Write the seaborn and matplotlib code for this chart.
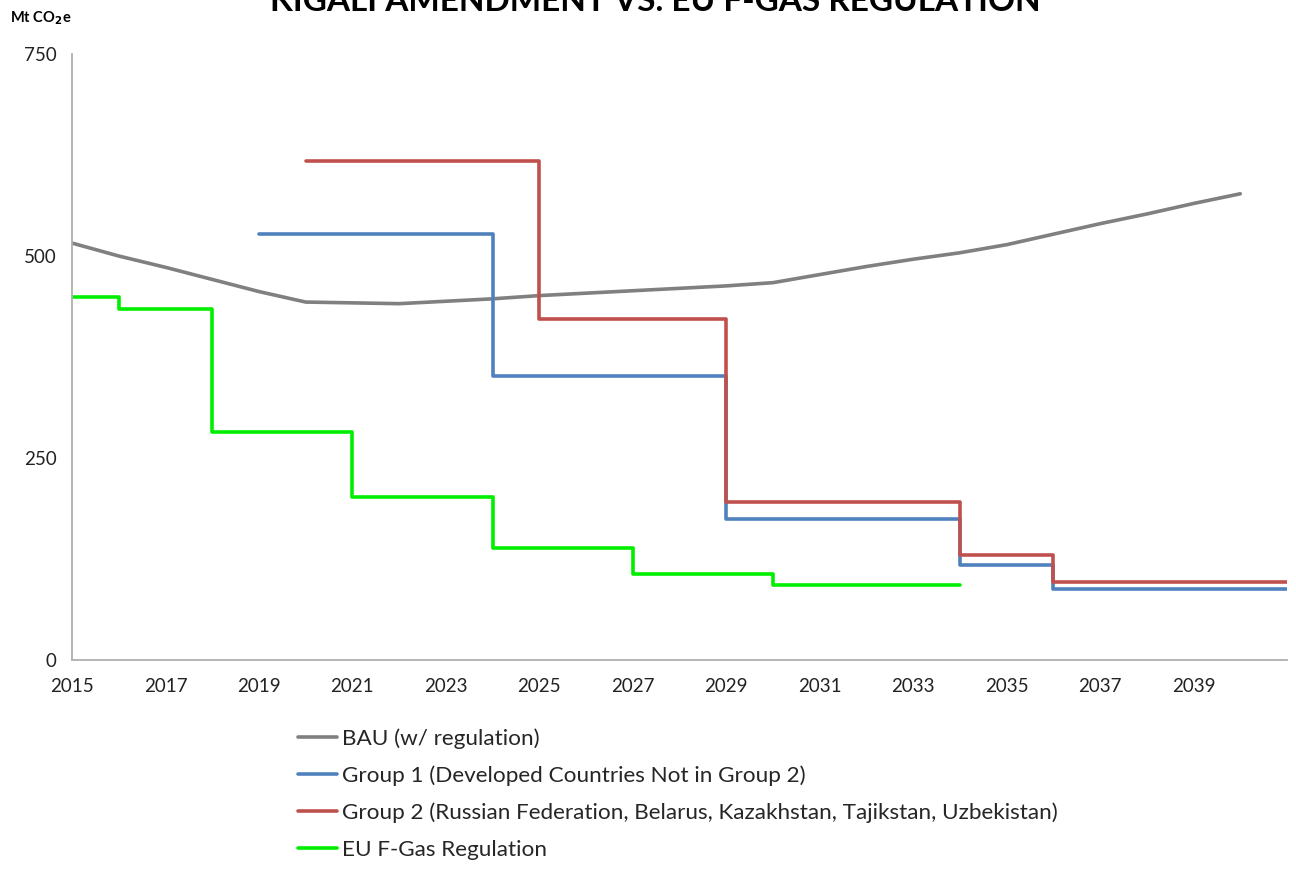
import matplotlib
matplotlib.use("Agg")
import matplotlib.pyplot as plt
import seaborn as sns
import pandas as pd

sns.set_theme(style="white")
plt.rcParams['font.family'] = ['Lato', 'DejaVu Sans']

# ---- data ----
bau_years = list(range(2015, 2041))
bau_values = [516, 500, 486, 471, 456, 443, 442, 441, 444, 447, 451, 454, 457,
              460, 463, 467, 477, 487, 496, 504, 514, 527, 540, 552, 565, 577]

g1_years = [2019, 2024, 2029, 2034, 2036, 2041]
g1_values = [527, 351, 175, 117, 88, 88]

g2_years = [2020, 2025, 2029, 2034, 2036, 2041]
g2_values = [618, 422, 195, 130, 97, 97]

eu_years = [2015, 2016, 2018, 2021, 2024, 2027, 2030, 2034]
eu_values = [449, 435, 282, 202, 138, 107, 93, 93]

labels = ["BAU (w/ regulation)",
          "Group 1 (Developed Countries Not in Group 2)",
          "Group 2 (Russian Federation, Belarus, Kazakhstan, Tajikstan, Uzbekistan)",
          "EU F-Gas Regulation"]
colors = ["#808080", "#4F81BD", "#C0504D", "#00EE00"]
x_ticks = list(range(2015, 2041, 2))
y_ticks = [0, 250, 500, 750]

fig = plt.figure(figsize=(12.96, 8.75), dpi=100)
ax = fig.add_axes([72/1296, 1-660/875, (1287-72)/1296, (660-54)/875])

lw = 2.6
sns.lineplot(x=bau_years, y=bau_values, ax=ax, color=colors[0], lw=lw, label=labels[0])
sns.lineplot(x=g1_years, y=g1_values, ax=ax, color=colors[1], lw=lw,
             drawstyle='steps-post', label=labels[1])
sns.lineplot(x=g2_years, y=g2_values, ax=ax, color=colors[2], lw=lw,
             drawstyle='steps-post', label=labels[2])
sns.lineplot(x=eu_years, y=eu_values, ax=ax, color=colors[3], lw=lw,
             drawstyle='steps-post', label=labels[3])

ax.set_xlim(2015, 2041)
ax.set_ylim(0, 750)
ax.set_xticks(x_ticks + [2041])
ax.set_xticklabels([str(t) for t in x_ticks] + [""])
ax.set_yticks(y_ticks)
ax.set_yticklabels([str(t) for t in y_ticks])
for s in ['top', 'right']:
    ax.spines[s].set_visible(False)
for s in ['left', 'bottom']:
    ax.spines[s].set_color('#B0B0B0')
    ax.spines[s].set_linewidth(1.3)
ax.tick_params(axis='both', which='both', direction='out', length=6, width=1.2,
               color='#B0B0B0', labelsize=13.5, labelcolor='#222222', pad=5)
ax.tick_params(axis='x', pad=7)
ax.grid(False)
ax.set_xlabel("")
ax.set_ylabel("")

handles, labs = ax.get_legend_handles_labels()
ax.get_legend().remove()
fig.legend(handles, labs, loc='upper left', bbox_to_anchor=(298/1296, 1-728/875),
           frameon=False, fontsize=16.2, handlelength=1.75, handletextpad=0.22,
           labelspacing=0.74, borderaxespad=0, borderpad=0)

fig.text(655/1296, 1-11/875, "KIGALI AMENDMENT VS. EU F-GAS REGULATION",
         ha='center', va='baseline', fontsize=24, fontweight='bold', color='black')
fig.text(10/1296, 1-22/875, r"Mt CO$_\mathbf{2}$e", ha='left', va='baseline',
         fontsize=10.5, fontweight='bold', color='black')

fig.savefig("out.png", dpi=100)
